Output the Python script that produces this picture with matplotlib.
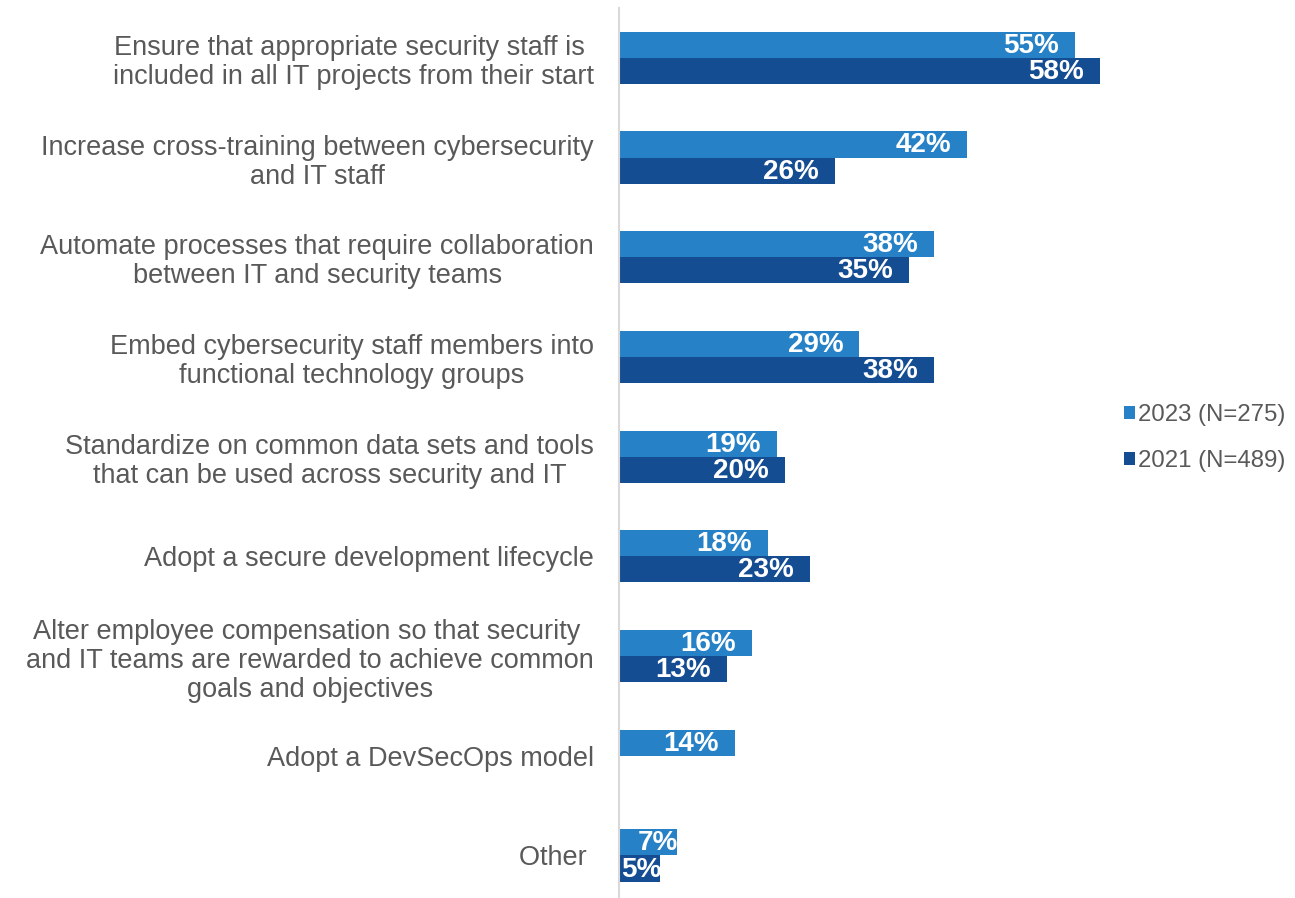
import numpy as np
import matplotlib.pyplot as plt

plt.rcParams['font.family'] = ['Liberation Sans', 'DejaVu Sans']

categories = [
    'Ensure that appropriate security staff is \nincluded in all IT projects from their start',
    'Increase cross-training between cybersecurity\nand IT staff',
    'Automate processes that require collaboration\nbetween IT and security teams',
    'Embed cybersecurity staff members into\nfunctional technology groups',
    'Standardize on common data sets and tools\nthat can be used across security and IT',
    'Adopt a secure development lifecycle',
    'Alter employee compensation so that security \nand IT teams are rewarded to achieve common\ngoals and objectives',
    'Adopt a DevSecOps model',
    'Other ',
]
vals_2023 = [55, 42, 38, 29, 19, 18, 16, 14, 7]
vals_2021 = [58, 26, 35, 38, 20, 23, 13, None, 5]

c2023 = '#2681C6'
c2021 = '#154D92'
grey = '#595959'

W, H = 1295, 898
fig = plt.figure(figsize=(W / 100, H / 100), dpi=100)
# axes: left edge at the category axis line, 8.29 px per percent
ax = fig.add_axes([619 / W, 0, 497 / W, 890 / H])
ax.set_xlim(0, 497 / 8.29)
ax.set_ylim(-0.5 + 890 / 99.7, -0.5)

y = np.arange(len(categories))
h = 0.262
m23 = [v for v in vals_2023]
m21 = [v if v is not None else 0 for v in vals_2021]
b1 = ax.barh(y - h / 2, m23, height=h, color=c2023, label='2023 (N=275)')
b2 = ax.barh(y + h / 2, m21, height=h, color=c2021, label='2021 (N=489)')

px = 1 / 8.29
for yy, vals in ((y - h / 2, vals_2023), (y + h / 2, vals_2021)):
    for yi, v in zip(yy, vals):
        if v is None:
            continue
        xt = v - 16 * px if v >= 10 else v + 1 * px
        ax.text(xt, yi + 0.01, f'{v}%', ha='right', va='center', color='white',
                fontsize=20, fontweight='bold', clip_on=True)

ax.set_yticks(y)
ax.set_yticklabels(categories, fontsize=19.5, color=grey, ha='right',
                   multialignment='center', linespacing=1.15)
ax.tick_params(axis='y', length=0, pad=18)
ax.set_xticks([])
for s in ('top', 'right', 'bottom'):
    ax.spines[s].set_visible(False)
ax.spines['left'].set_color('#D9D9D9')
ax.spines['left'].set_linewidth(1.5)

fig.legend(handles=[b1, b2], loc='center left', bbox_to_anchor=(1124 / W, 1 - 438 / H),
           frameon=False, fontsize=17.3, handlelength=0.45, handleheight=0.45,
           handletextpad=0.12, labelspacing=1.0, labelcolor=grey, borderpad=0,
           borderaxespad=0)

fig.savefig('out.png', dpi=100)
